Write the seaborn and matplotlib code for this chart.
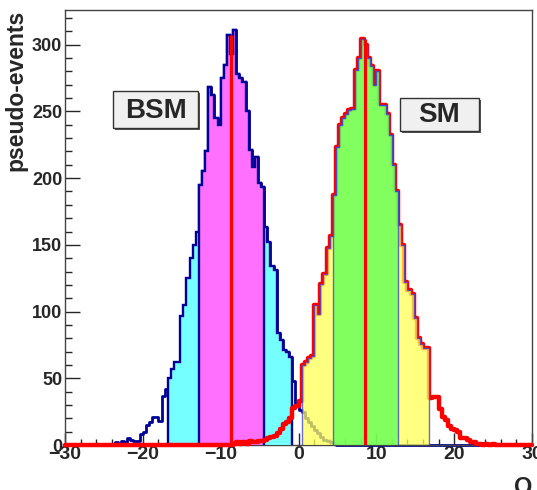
import numpy as np
import pandas as pd
import matplotlib
matplotlib.use("Agg")
import matplotlib.pyplot as plt
import seaborn as sns
from matplotlib.patches import Rectangle
from matplotlib.ticker import MultipleLocator
import matplotlib.transforms as mtransforms

# binning of the Q histograms
bin_width = 0.4
q_min, q_max = -30.0, 30.0

# BSM pseudo-experiments: counts per bin, first bin starts at bsm_start
bsm_start = -25.6
bsm_counts = [1, 0, 1, 0, 1, 2, 1, 3, 2, 5, 4, 3, 3, 8, 10, 15, 17, 21, 21, 18,
              37, 42, 50, 57, 62, 62, 97, 105, 125, 140, 150, 160,
              195, 205, 220, 268, 262, 245, 240, 275, 285, 307, 293, 311, 278,
              275, 272, 250, 221, 208, 216, 196, 193,
              163, 152, 134, 131, 84, 79, 71, 70, 66,
              48, 30, 26, 25, 20, 17, 14, 11, 9, 6, 4, 3, 2, 1]
bsm_median = -8.7
bsm_1sigma = (-12.8, -4.4)
bsm_2sigma = (-16.8, -0.8)

# SM pseudo-experiments
sm_start = -8.4
sm_counts = [1, 2, 1, 2, 1, 3, 2, 2, 3, 3, 4, 5, 6, 7, 9, 12, 16, 17, 20, 28, 29, 33,
             60, 62, 65, 67, 105, 98, 121, 128, 148, 157,
             187, 223, 240, 245, 248, 251, 252, 281, 290, 304, 300, 290, 284, 270,
             280, 255, 255, 248, 232, 210, 190,
             165, 150, 122, 116, 113, 95, 80, 76, 73, 73,
             35, 36, 36, 27, 21, 19, 14, 12, 11, 10, 5, 5, 4, 2, 2, 1, 1, 0, 1, 0, 1]
sm_median = 8.6
sm_1sigma = (4.4, 12.8)
sm_2sigma = (0.4, 16.8)

edges = np.round(np.arange(q_min, q_max + bin_width / 2, bin_width), 3)
centers = edges[:-1] + bin_width / 2


def full_hist(start, counts):
    h = np.zeros(len(centers))
    i0 = int(round((start - q_min) / bin_width))
    h[i0:i0 + len(counts)] = counts
    return h


def edge_index(q):
    return int(round((q - q_min) / bin_width))


def draw_band(ax, h, band, face, edge, lw, alpha, z):
    i0, i1 = edge_index(band[0]), edge_index(band[1])
    ax.stairs(h[i0:i1], edges[i0:i1 + 1], fill=True, facecolor=face,
              edgecolor=edge, linewidth=lw, alpha=alpha, zorder=z)


def draw_median(ax, h, q, z):
    i = np.searchsorted(edges, q) - 1
    top = h[i - 1:i + 1].max()   # line reaches the taller neighbouring step
    ax.vlines(q, 0, top, color="#ff0000", linewidth=2.3, zorder=z)


bsm = full_hist(bsm_start, bsm_counts)
sm = full_hist(sm_start, sm_counts)
df = pd.DataFrame({"Q": centers, "bsm": bsm, "sm": sm})

sns.set_style("ticks")
plt.rcParams["font.family"] = ["Liberation Sans", "DejaVu Sans"]
plt.rcParams["font.weight"] = "bold"

fig = plt.figure(figsize=(5.37, 4.90), dpi=100)
ax = fig.add_axes([65 / 537, 45 / 490, 467 / 537, 435 / 490])

navy = "#000099"

# BSM outline and its bands
sns.histplot(data=df, x="Q", weights="bsm", binwidth=bin_width, binrange=(q_min, q_max),
             element="step", fill=False, color=navy, linewidth=2.0,
             clip_on=False, zorder=2, ax=ax)
draw_band(ax, bsm, bsm_2sigma, "#75ffff", navy, 1.7, 1.0, 3)
draw_band(ax, bsm, bsm_1sigma, "#ff70ff", navy, 1.7, 1.0, 3.1)

# SM outline and its bands
sns.histplot(data=df, x="Q", weights="sm", binwidth=bin_width, binrange=(q_min, q_max),
             element="step", fill=False, color="#ff0000", linewidth=3.2,
             clip_on=False, zorder=4, ax=ax)
draw_band(ax, sm, sm_2sigma, "#ffff55", "#3b3bd0", 1.0, 0.75, 5)
draw_band(ax, sm, sm_1sigma, "#55ff55", "#3b3bd0", 1.0, 0.75, 5.1)

draw_median(ax, bsm, bsm_median, 6)
draw_median(ax, sm, sm_median, 6)

ax.set_xlim(q_min, q_max)
ax.set_ylim(0, 326)
ax.xaxis.set_major_locator(MultipleLocator(10))
ax.xaxis.set_minor_locator(MultipleLocator(2))
ax.yaxis.set_major_locator(MultipleLocator(50))
ax.yaxis.set_minor_locator(MultipleLocator(10))
ax.tick_params(axis="x", which="major", direction="in", length=8.5, width=1,
               labelsize=14, pad=1)
ax.tick_params(axis="x", which="minor", direction="in", length=4.3, width=1)
ax.tick_params(axis="y", which="major", direction="in", length=10.5, width=1,
               labelsize=13, pad=2)
ax.tick_params(axis="y", which="minor", direction="in", length=5, width=1)
for lab in ax.get_xticklabels() + ax.get_yticklabels():
    lab.set_fontweight("bold")
for sp in ax.spines.values():
    sp.set_color("#444444")
    sp.set_linewidth(1)

ax.set_ylabel("pseudo-events", fontsize=16.5, fontweight="bold", loc="top")
ax.yaxis.set_label_coords(-0.08, 1.0)
ax.set_xlabel("Q", fontsize=17, fontweight="bold", loc="right")
ax.xaxis.set_label_coords(1.0, -0.072)

# labels in boxes with a small shadow
shadow = mtransforms.offset_copy(ax.transAxes, fig=fig, x=1.5, y=-1.5, units="points")
for (x0, y0, x1, y1), (tx, ty), txt in [
        ((0.1028, 0.7287, 0.2848, 0.8138), (0.1949, 0.7678), "BSM"),
        ((0.7173, 0.7218, 0.8865, 0.7977), (0.8009, 0.7586), "SM")]:
    ax.add_patch(Rectangle((x0, y0), x1 - x0, y1 - y0, transform=shadow,
                           facecolor="#555555", edgecolor="none", zorder=7))
    ax.add_patch(Rectangle((x0, y0), x1 - x0, y1 - y0, transform=ax.transAxes,
                           facecolor="#f0f0f0", edgecolor="#333333",
                           linewidth=1.0, zorder=8))
    ax.text(tx, ty, txt, transform=ax.transAxes, ha="center", va="center",
            fontsize=20, fontweight="bold", zorder=9)

fig.savefig("out.png", dpi=100)
